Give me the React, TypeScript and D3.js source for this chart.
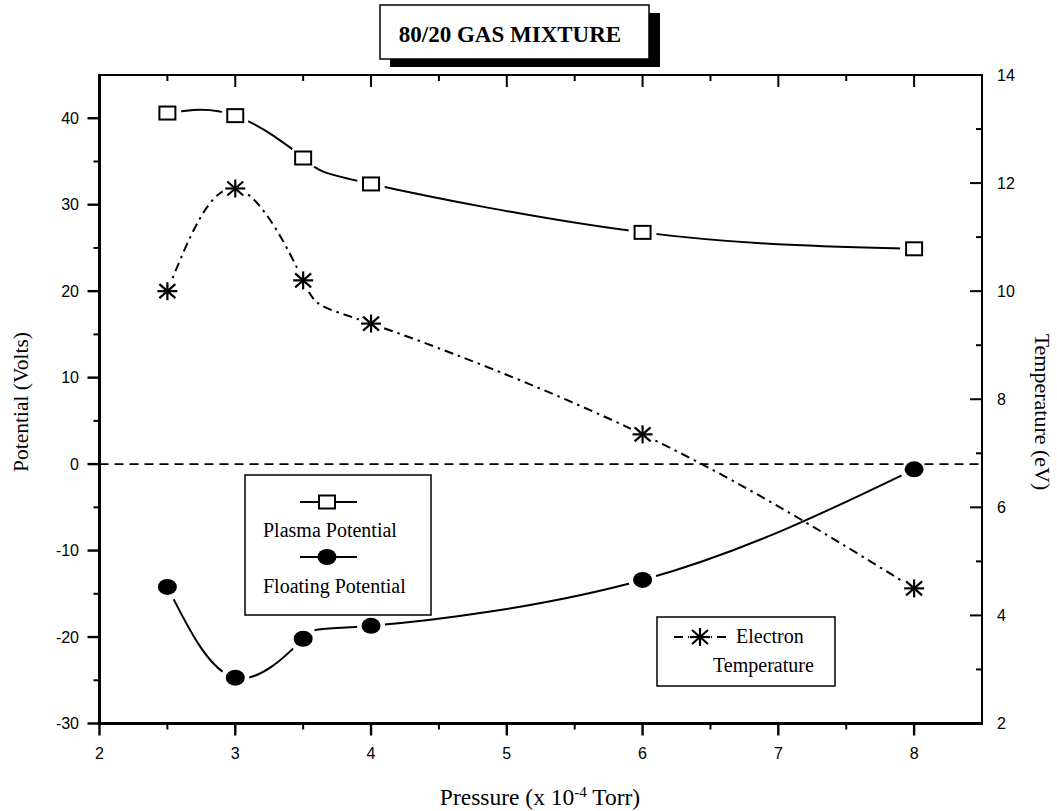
import * as d3 from "d3";

// pressure (x 10^-4 Torr)
const pressure = [2.5, 3, 3.5, 4, 6, 8];
// potentials (Volts)
const plasmaPotential = [40.6, 40.3, 35.4, 32.4, 26.8, 24.9];
const floatingPotential = [-14.2, -24.7, -20.2, -18.7, -13.4, -0.6];
// electron temperature (eV), right axis
const electronTemp = [10.0, 11.9, 10.2, 9.4, 7.35, 4.5];

const xTicks = [2, 3, 4, 5, 6, 7, 8];
const potentialTicks = [-30, -20, -10, 0, 10, 20, 30, 40];
const tempTicks = [2, 4, 6, 8, 10, 12, 14];

const W = 1057;
const H = 811;
const left = 99.5;
const right = 982;
const top = 75;
const bottom = 723.5;

const serif = "'Liberation Serif', 'Times New Roman', serif";
const sans = "'Liberation Sans', Arial, sans-serif";

export default function App() {
  const x = d3.scaleLinear([2, 8.5], [left, right]);
  const y = d3.scaleLinear([-30, 45], [bottom, top]);
  const yT = d3.scaleLinear([2, 14], [bottom, top]);

  const majorLen = 12;
  const minorLen = 6;

  const xMinor = xTicks.map((t) => t + 0.5).filter((t) => t < 8.5);
  const yMinor = potentialTicks.map((t) => t + 5).filter((t) => t < 45);
  const tMinor = tempTicks.slice(0, -1).map((t) => t + 1);

  const linePot = d3
    .line<number>()
    .x((_, i) => x(pressure[i]))
    .y((d) => y(d))
    .curve(d3.curveNatural);
  const lineTemp = d3
    .line<number>()
    .x((_, i) => x(pressure[i]))
    .y((d) => yT(d))
    .curve(d3.curveNatural);

  const asterisk = (cx: number, cy: number, key: string) => (
    <g key={key} stroke="#000" strokeWidth={2.2}>
      <line x1={cx - 10} y1={cy} x2={cx + 10} y2={cy} />
      <line x1={cx} y1={cy - 9} x2={cx} y2={cy + 9} />
      <line x1={cx - 8} y1={cy - 7} x2={cx + 8} y2={cy + 7} />
      <line x1={cx - 8} y1={cy + 7} x2={cx + 8} y2={cy - 7} />
    </g>
  );
  const square = (cx: number, cy: number, key: string) => (
    <rect key={key} x={cx - 8} y={cy - 6.5} width={16} height={13} fill="#fff" stroke="#000" strokeWidth={2} />
  );
  const dot = (cx: number, cy: number, key: string) => (
    <ellipse key={key} cx={cx} cy={cy} rx={9.5} ry={8} fill="#000" />
  );

  return (
    <svg width={W} height={H} style={{ position: "absolute", left: 0, top: 0, background: "#fff" }}>
      <rect x={0} y={0} width={W} height={H} fill="#fff" />

      {/* curves */}
      <path d={linePot(plasmaPotential) || ""} fill="none" stroke="#000" strokeWidth={2} />
      <path d={linePot(floatingPotential) || ""} fill="none" stroke="#000" strokeWidth={2} />
      <path d={lineTemp(electronTemp) || ""} fill="none" stroke="#000" strokeWidth={2} strokeDasharray="9,5,2.5,5" />

      {/* gaps around markers */}
      {pressure.map((p, i) => (
        <circle key={"hp" + i} cx={x(p)} cy={y(plasmaPotential[i])} r={14} fill="#fff" />
      ))}
      {pressure.map((p, i) => (
        <circle key={"hf" + i} cx={x(p)} cy={y(floatingPotential[i])} r={14} fill="#fff" />
      ))}
      {pressure.map((p, i) => (
        <circle key={"ht" + i} cx={x(p)} cy={yT(electronTemp[i])} r={13} fill="#fff" />
      ))}

      {/* zero line */}
      <line x1={left} x2={right} y1={y(0)} y2={y(0)} stroke="#000" strokeWidth={1.6} strokeDasharray="9,6" />

      {/* frame */}
      <rect x={left} y={top} width={right - left} height={bottom - top} fill="none" stroke="#000" strokeWidth={2} />
      <line x1={left - 2} x2={right + 1} y1={bottom} y2={bottom} stroke="#000" strokeWidth={3} />
      <line x1={left} x2={left} y1={top - 1} y2={bottom + 1} stroke="#000" strokeWidth={3} />

      {/* bottom axis */}
      {xTicks.map((t) => (
        <g key={"xb" + t}>
          <line x1={x(t)} x2={x(t)} y1={bottom} y2={bottom + majorLen} stroke="#000" strokeWidth={2.4} />
          <text x={x(t)} y={759} textAnchor="middle" fontFamily={sans} fontSize={16}>{t}</text>
        </g>
      ))}
      {xMinor.map((t) => (
        <line key={"xbm" + t} x1={x(t)} x2={x(t)} y1={bottom} y2={bottom + minorLen} stroke="#000" strokeWidth={2} />
      ))}
      {/* top axis (inward) */}
      {xTicks.map((t) => (
        <line key={"xt" + t} x1={x(t)} x2={x(t)} y1={top} y2={top + majorLen} stroke="#000" strokeWidth={2} />
      ))}
      {xMinor.map((t) => (
        <line key={"xtm" + t} x1={x(t)} x2={x(t)} y1={top} y2={top + minorLen} stroke="#000" strokeWidth={2} />
      ))}

      {/* left axis */}
      {potentialTicks.map((t) => (
        <g key={"yl" + t}>
          <line x1={left - majorLen} x2={left} y1={y(t)} y2={y(t)} stroke="#000" strokeWidth={2.4} />
          <text x={79} y={y(t) + 5.5} textAnchor="end" fontFamily={sans} fontSize={16}>{t}</text>
        </g>
      ))}
      {yMinor.map((t) => (
        <line key={"ylm" + t} x1={left - minorLen} x2={left} y1={y(t)} y2={y(t)} stroke="#000" strokeWidth={2} />
      ))}

      {/* right axis (inward) */}
      {tempTicks.map((t) => (
        <g key={"yr" + t}>
          <line x1={right - majorLen} x2={right} y1={yT(t)} y2={yT(t)} stroke="#000" strokeWidth={2} />
          <text x={997} y={yT(t) + 5.5} textAnchor="start" fontFamily={sans} fontSize={16}>{t}</text>
        </g>
      ))}
      {tMinor.map((t) => (
        <line key={"yrm" + t} x1={right - minorLen} x2={right} y1={yT(t)} y2={yT(t)} stroke="#000" strokeWidth={2} />
      ))}

      {/* markers */}
      {pressure.map((p, i) => square(x(p), y(plasmaPotential[i]), "sq" + i))}
      {pressure.map((p, i) => dot(x(p), y(floatingPotential[i]), "dt" + i))}
      {pressure.map((p, i) => asterisk(x(p), yT(electronTemp[i]), "as" + i))}

      {/* axis titles */}
      <text
        transform={`translate(28, 402) rotate(-90)`}
        textAnchor="middle"
        fontFamily={serif}
        fontSize={21.5}
      >
        Potential (Volts)
      </text>
      <text
        transform={`translate(1035, 412) rotate(90)`}
        textAnchor="middle"
        fontFamily={serif}
        fontSize={22}
      >
        Temperature (eV)
      </text>
      <text x={540} y={805} textAnchor="middle" fontFamily={serif} fontSize={23.5}>
        Pressure (x 10
        <tspan dy={-8} fontSize={15}>-4</tspan>
        <tspan dy={8}> Torr)</tspan>
      </text>

      {/* legend 1 */}
      <rect x={245} y={475} width={186} height={140} fill="#fff" stroke="#000" strokeWidth={1.5} />
      <line x1={300} x2={357} y1={502} y2={502} stroke="#000" strokeWidth={2} />
      {square(327, 502, "lg1")}
      <text x={263} y={537} fontFamily={serif} fontSize={20}>Plasma Potential</text>
      <line x1={300} x2={357} y1={557} y2={557} stroke="#000" strokeWidth={2} />
      {dot(327, 557, "lg2")}
      <text x={263} y={593} fontFamily={serif} fontSize={20}>Floating Potential</text>

      {/* legend 2 */}
      <rect x={657} y={617} width={178} height={69} fill="#fff" stroke="#000" strokeWidth={1.5} />
      <line x1={674} x2={731} y1={637} y2={637} stroke="#000" strokeWidth={2} strokeDasharray="9,5,2.5,5" />
      <rect x={689} y={626} width={22} height={22} fill="#fff" />
      {asterisk(700, 637, "lg3")}
      <text x={736} y={643} fontFamily={serif} fontSize={20}>Electron</text>
      <text x={713} y={672} fontFamily={serif} fontSize={20}>Temperature</text>

      {/* title box */}
      <rect x={390} y={13} width={270} height={54} fill="#000" />
      <rect x={380} y={5} width={269} height={54} fill="#fff" stroke="#000" strokeWidth={1.5} />
      <text x={510} y={42} textAnchor="middle" fontFamily={serif} fontWeight="bold" fontSize={23}>
        80/20 GAS MIXTURE
      </text>
    </svg>
  );
}
